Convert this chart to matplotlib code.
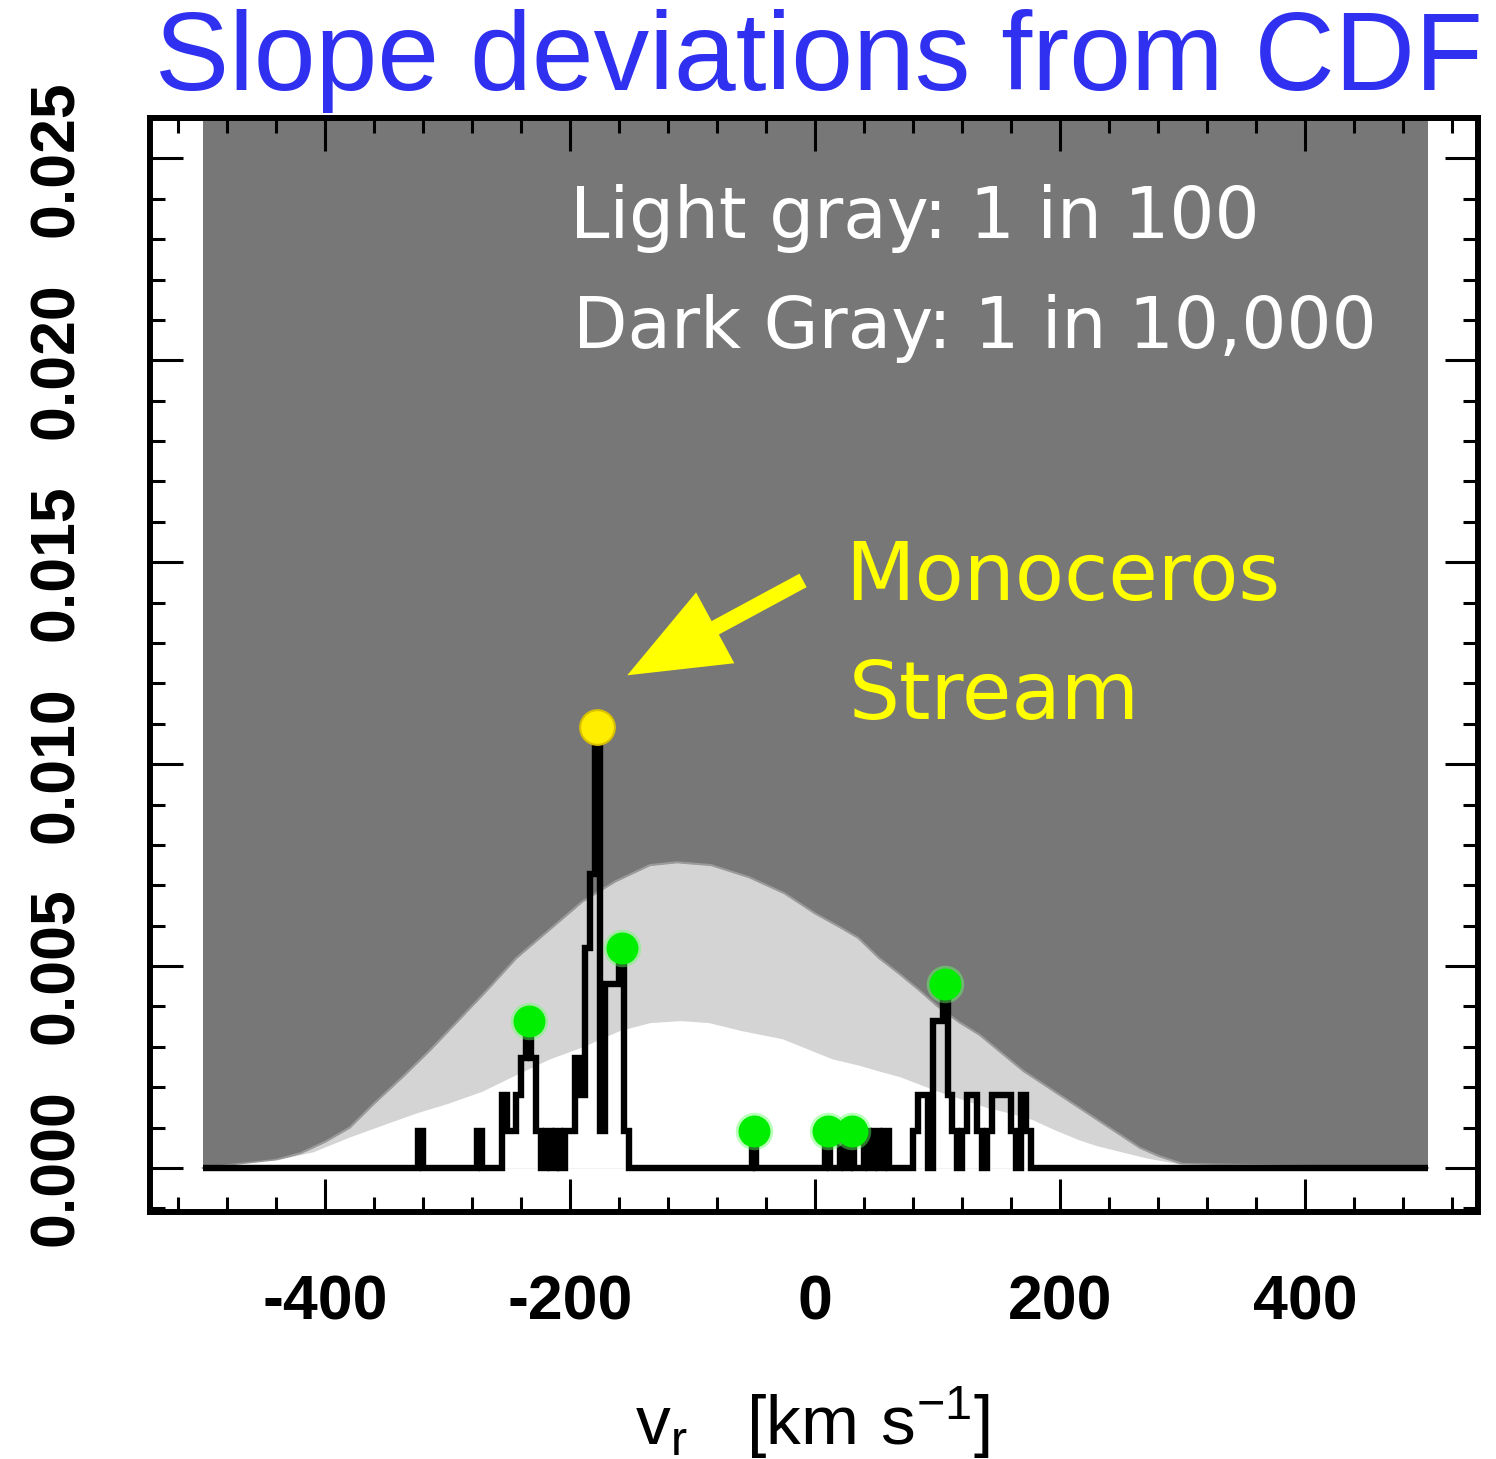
import numpy as np
import matplotlib
matplotlib.use('Agg')
import matplotlib.pyplot as plt
from matplotlib.ticker import MultipleLocator

plt.rcParams['font.family'] = 'Liberation Sans'
plt.rcParams['mathtext.fontset'] = 'custom'
plt.rcParams['mathtext.rm'] = 'Liberation Sans'
plt.rcParams['axes.unicode_minus'] = False

# radial velocity histogram, 4 km/s bins, counts of stars per bin
n_stars = 1100
bin_width = 4
bin_v = [-322, -274, -254, -250, -246, -242, -238, -234, -230, -226, -218, -210,
         -202, -198, -194, -190, -186, -182, -178, -174, -170, -166, -162, -158,
         -154, -50, 10, 22, 30, 42, 50, 58, 82, 86, 90, 98, 102, 106, 110, 114,
         122, 126, 130, 134, 142, 146, 150, 154, 158, 162, 170, 174]
bin_n = [1, 1, 2, 1, 1, 2, 3, 4, 3, 1, 1, 1,
         1, 1, 3, 2, 6, 8, 12, 1, 5, 5, 5, 6,
         1, 1, 1, 1, 1, 1, 1, 1, 1, 2, 2, 4, 4, 5, 2, 1,
         1, 2, 2, 1, 1, 2, 2, 2, 2, 1, 2, 1]

# significant peaks
green_v = [-234, -158, -50, 10, 30, 106]
yellow_v = [-178]

# 1 in 10,000 envelope (upper) and 1 in 100 envelope (lower)
up_v = [-500, -470, -440, -420, -400, -380, -360, -337, -315, -293, -268, -244,
        -217, -190, -163, -135, -113, -85, -54, -25, 0, 18, 35, 52, 69, 85, 100,
        118, 134, 150, 170, 190, 215, 235, 250, 265, 280, 300, 500]
up_f = [0, 0.0001, 0.0002, 0.00037, 0.00065, 0.001, 0.0016, 0.00225, 0.0029,
        0.0036, 0.0044, 0.0052, 0.0059, 0.0066, 0.0071, 0.0075, 0.00757, 0.0075,
        0.0072, 0.0068, 0.0063, 0.0060, 0.0057, 0.0052, 0.0048, 0.0044, 0.0040,
        0.0036, 0.0033, 0.0029, 0.0024, 0.0020, 0.0015, 0.0011, 0.0008, 0.0005,
        0.0003, 0.0001, 0]
lo_v = [-500, -470, -440, -410, -380, -350, -326, -300, -272, -245, -217, -190,
        -160, -135, -110, -87, -60, -27, 14, 35, 52, 69, 100, 120, 140, 160, 177,
        195, 215, 230, 250, 270, 297, 500]
lo_f = [0, 0.0001, 0.0002, 0.0004, 0.00077, 0.0011, 0.00136, 0.0016, 0.0019,
        0.0023, 0.0027, 0.003, 0.0034, 0.0036, 0.00365, 0.0036, 0.0034, 0.0032,
        0.0027, 0.00255, 0.0024, 0.00226, 0.0019, 0.0017, 0.0015, 0.00135,
        0.0012, 0.00095, 0.0007, 0.00055, 0.0004, 0.00025, 0.0001, 0]

edges = np.arange(-500, 501, bin_width)
centers = edges[:-1] + bin_width / 2
counts = np.zeros(len(centers))
for v, n in zip(bin_v, bin_n):
    counts[np.argmin(np.abs(centers - v))] = n
frac = counts / n_stars

def frac_at(vs):
    return [counts[np.argmin(np.abs(centers - v))] / n_stars for v in vs]

dark = '#777777'
light = '#d4d4d4'

fig = plt.figure(figsize=(14.96, 14.59), dpi=100)
ax = fig.add_axes([0.1003, 0.1693, 0.8877, 0.7498])
ax.set_xlim(-543, 541)
ax.set_ylim(-0.00109, 0.0260)

ax.fill_between([-500, 500], 0, 0.03, color=dark, lw=0, zorder=0)
ax.fill_between(up_v, 0, up_f, color=light, lw=0, zorder=1)
ax.plot(up_v, up_f, color='#9a9a9a', lw=1.5, zorder=1)
ax.fill_between(lo_v, 0, lo_f, color='white', lw=0, zorder=1)

ax.stairs(frac, edges, color='k', lw=4.6, baseline=0, zorder=3)

gf = frac_at(green_v)
ax.plot(green_v, gf, 'o', ms=27, mfc='#66ff66', mec='none', alpha=0.45, zorder=4)
ax.plot(green_v, gf, 'o', ms=23, mfc='#00ee00', mec='none', zorder=5)
yf = frac_at(yellow_v)
ax.plot(yellow_v, yf, 'o', ms=25, mfc='#ffee00', mec='#d8c000', mew=1.5, zorder=5)

ax.annotate('', xy=(-153.5, 0.0122), xytext=(-10, 0.01455),
            arrowprops=dict(facecolor='#ffff00', edgecolor='none', width=11,
                            headwidth=58, headlength=72, shrink=0.0), zorder=6)

ax.text(-200, 0.0235, 'Light gray: 1 in 100', color='white', fontsize=51,
        family='DejaVu Sans', ha='left', va='center', zorder=6)
ax.text(-198, 0.0208, 'Dark Gray: 1 in 10,000', color='white', fontsize=51,
        family='DejaVu Sans', ha='left', va='center', zorder=6)
ax.text(24, 0.0146, 'Monoceros', color='#ffff00', fontsize=58,
        family='DejaVu Sans', ha='left', va='center', zorder=6)
ax.text(27, 0.01166, 'Stream', color='#ffff00', fontsize=58,
        family='DejaVu Sans', ha='left', va='center', zorder=6)

ax.set_xticks([-400, -200, 0, 200, 400])
ax.set_yticks([0, 0.005, 0.010, 0.015, 0.020, 0.025])
ax.set_yticklabels(['0.000', '0.005', '0.010', '0.015', '0.020', '0.025'])
ax.xaxis.set_minor_locator(MultipleLocator(40))
ax.yaxis.set_minor_locator(MultipleLocator(0.001))
ax.tick_params(which='both', direction='in', top=True, right=True, width=2.2,
               colors='k', labelsize=45)
ax.tick_params(which='major', length=24)
ax.tick_params(which='minor', length=11)
ax.tick_params(axis='x', pad=44)
ax.tick_params(axis='y', pad=46, labelrotation=90)
for lab in ax.get_yticklabels():
    lab.set_verticalalignment('center')
for lab in ax.get_xticklabels() + ax.get_yticklabels():
    lab.set_fontweight('bold')
for sp in ax.spines.values():
    sp.set_linewidth(4.3)
    sp.set_zorder(7)

fig.text(0.5475, 0.9383, 'Slope deviations from CDF', color='#3030f0',
         fontsize=80, ha='center', va='baseline')
fig.text(0.543, 0.0096, r'$\mathregular{v_r}$   $\mathregular{[km\ s^{-1}]}$',
         fontsize=50, ha='center', va='baseline')

fig.savefig('out.png', dpi=100)
